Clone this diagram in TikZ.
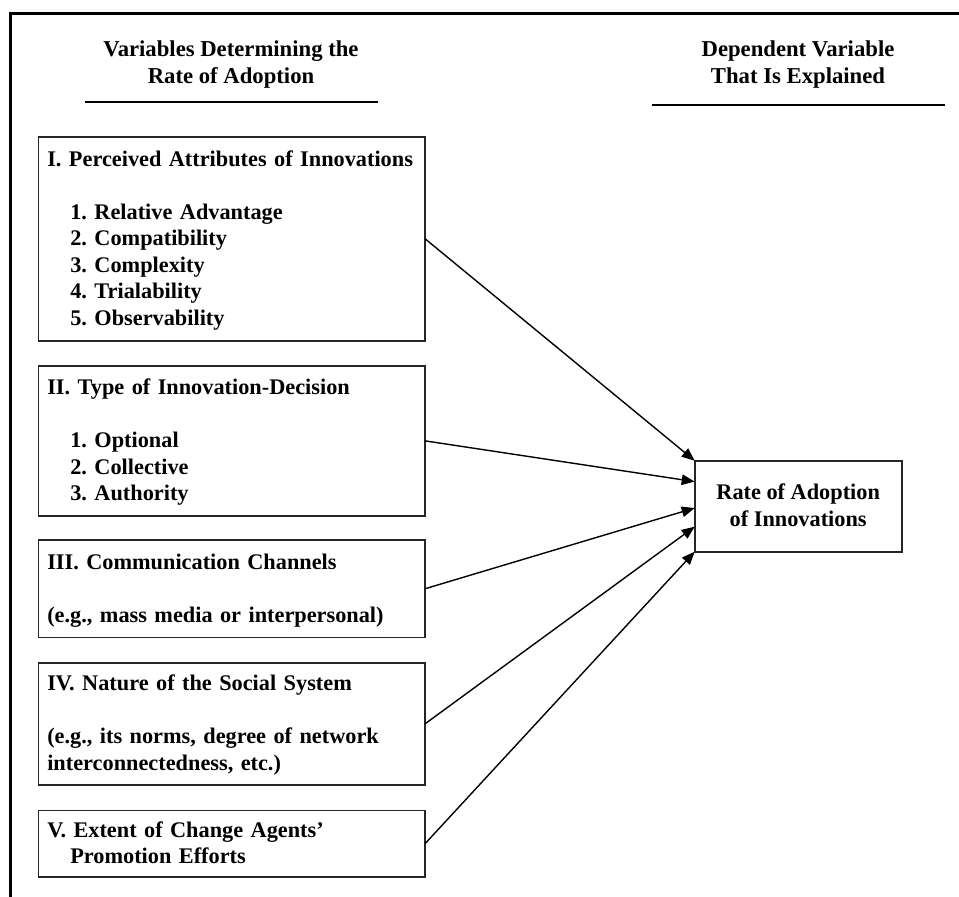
\documentclass[tikz,border=0pt]{standalone}
\usepackage{fontspec}
\setmainfont{Liberation Serif}
\usetikzlibrary{arrows.meta,calc}
% line strut: full line height, baseline placed like a word-processor line
\newcommand{\lnstrut}{\rule[-6.4pt]{0pt}{26.5pt}}
\newcommand{\indentitem}{\hspace*{23pt}}
\begin{document}
\frenchspacing
\begin{tikzpicture}[x=1pt,y=-1pt,
  every node/.style={font=\bfseries\fontsize{22.3}{26.5}\selectfont, outer sep=0pt},
  varbox/.style={draw=black!85, line width=1.6pt, anchor=north west, align=left,
                 text width=368.7pt, inner xsep=9pt, inner ysep=0pt,
                 execute at begin node={\frenchspacing\hyphenpenalty=10000\hfuzz=20pt}},
  resultbox/.style={draw=black!85, line width=1.6pt, align=center,
                 minimum width=207pt, minimum height=91pt, inner sep=0pt},
  head/.style={align=center, inner sep=0pt, font=\bfseries\fontsize{22.7}{26.5}\selectfont},
  headrule/.style={line width=2.2pt},
  frame/.style={line width=3.3pt},
  link/.style={line width=1.4pt, -{Triangle[length=13pt,width=10.5pt]}},
]
\useasboundingbox (0,0) rectangle (959,897);

% outer frame (top and left sides)
\draw[frame] (10.7,897) -- (10.7,13.3) -- (960,13.3);

% column headings
\node[head] (hleft) at (231,63.1) {\lnstrut Variables Determining the\\Rate of Adoption\lnstrut};
\draw[headrule] (85.3,101.7) -- (378.3,101.7);
\node[head] (hright) at (798,63.1) {\lnstrut Dependent Variable\\That Is Explained\lnstrut};
\draw[headrule] (651.7,105) -- (945,105);

% independent variables
\node[varbox, minimum height=204pt] (b1) at (38.3,136.7)
  {\mbox{\lnstrut I. Perceived Attributes of Innovations}\\[26.5pt]
   \indentitem 1. Relative Advantage\\
   \indentitem 2. Compatibility\\
   \indentitem 3. Complexity\\
   \indentitem 4. Trialability\\
   \indentitem 5. Observability\lnstrut};
\node[varbox, minimum height=150.3pt] (b2) at (38.3,365.7)
  {\lnstrut II. Type of Innovation-Decision\\[26.5pt]
   \indentitem 1. Optional\\
   \indentitem 2. Collective\\
   \indentitem 3. Authority\lnstrut};
\node[varbox, minimum height=97.5pt] (b3) at (38.3,540)
  {\lnstrut III. Communication Channels\\[26.5pt]
   \mbox{(e.g., mass media or interpersonal)}\lnstrut};
\node[varbox, minimum height=122.3pt] (b4) at (38.3,662.7)
  {\lnstrut IV. Nature of the Social System\\[26.5pt]
   \mbox{(e.g., its norms, degree of network}\\
   interconnectedness, etc.)\lnstrut};
\node[varbox, minimum height=66.5pt] (b5) at (38.3,810.5)
  {\lnstrut V. Extent of Change Agents’\\
   \indentitem Promotion Efforts\lnstrut};

% dependent variable
\node[resultbox] (tgt) at (798.2,506.2) {\lnstrut Rate of Adoption\\of Innovations\lnstrut};

% influences
\draw[link] (b1.east) -- ($(tgt.north west)!0!(tgt.south west)$);
\draw[link] (b2.east) -- ($(tgt.north west)!0.23!(tgt.south west)$);
\draw[link] (b3.east) -- ($(tgt.north west)!0.52!(tgt.south west)$);
\draw[link] (b4.east) -- ($(tgt.north west)!0.725!(tgt.south west)$);
\draw[link] (b5.east) -- ($(tgt.north west)!1!(tgt.south west)$);
\end{tikzpicture}
\end{document}
